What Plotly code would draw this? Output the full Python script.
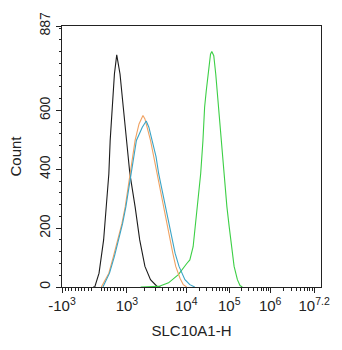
import math
import plotly.graph_objects as go

# Histogram data: x in display channel units (0..1000 across the axis), y = Count
black_x = [120, 126.5, 143, 151.8, 160.7, 170.8, 180.9, 186, 193.6, 202.4, 211.3, 224, 236.6, 250.5, 262, 282.2, 300, 320.2, 341.7, 367, 380]
black_y = [0, 0, 47, 104, 160, 273, 385, 498, 611, 724, 789, 724, 611, 498, 385, 273, 160, 70, 25, 2, 0]

orange_x = [151.8, 168.3, 180.9, 198.6, 215, 231.5, 244.2, 262, 282.2, 297.4, 312.6, 320.2, 329, 341.7, 354.4, 367, 379.7, 392.3, 405, 415.1, 427.8, 439.2, 455.6, 468.3, 481]
orange_y = [0, 25, 47, 104, 160, 216, 273, 385, 498, 554, 583, 571, 543, 498, 442, 385, 329, 273, 216, 160, 115, 70, 30, 8, 0]

blue_x = [158, 171, 183.4, 202.4, 218.9, 234, 246.7, 265.7, 287.3, 310, 325.2, 335.4, 348, 363.2, 373.3, 386, 398.7, 411.3, 424, 436.6, 451.8, 474.6, 493.6, 512.6]
blue_y = [0, 25, 47, 104, 160, 216, 273, 385, 498, 543, 564, 543, 498, 442, 385, 329, 273, 216, 160, 115, 70, 25, 8, 0]

green_x = [303.7, 373.3, 411.3, 449.3, 481, 493.6, 506.3, 515.1, 525.3, 535.4, 544.2, 550.6, 557, 565.8, 573.4, 578.4, 586, 593.6, 601.2, 608.8, 616.4, 626.5, 636.6, 645.5, 654.4, 664.5, 677.2, 687.3, 696.2]
green_y = [0, 2, 14, 42, 79, 92, 137, 216, 295, 385, 498, 611, 667, 746, 791, 800, 786, 724, 645, 554, 464, 363, 273, 205, 137, 70, 25, 5, 0]

# Axis ticks (channel positions of the biexponential scale)
x_label_vals = [0, 250.7, 479.7, 645.7, 803.7, 973.4]
x_label_text = ["-10<sup>3</sup>", "10<sup>3</sup>", "10<sup>4</sup>", "10<sup>5</sup>", "10<sup>6</sup>", "10<sup>7.2</sup>"]
x_zero_cluster = [120, 126.5, 134]
y_label_vals = [0, 200, 400, 600, 887]
y_label_text = ["0", "200", "400", "600", "887"]
y_extra_major = [800]

decades = [250.7, 479.7, 645.7, 803.7, 973.4]
x_minor = [k * 12.65 for k in range(1, 10)] + [126.5 + k * 12.42 for k in range(2, 10)]
for a, b in zip(decades[:-1], decades[1:]):
    for m in range(2, 10):
        x_minor.append(a + math.log10(m) * (b - a))

fig = go.Figure()
series = [
    (black_x, black_y, "#1c1c1c"),
    (green_x, green_y, "#3ccf45"),
    (orange_x, orange_y, "#f0a262"),
    (blue_x, blue_y, "#3aa4c6"),
]
for xs, ys, col in series:
    fig.add_trace(go.Scatter(x=xs, y=ys, mode="lines", line=dict(color=col, width=1.1), showlegend=False))

font = "Liberation Sans, Arial, sans-serif"
ink = "#222"
fig.update_layout(
    width=342, height=350,
    margin=dict(l=62, r=17, t=25, b=63),
    paper_bgcolor="white", plot_bgcolor="white",
    font=dict(family=font, color=ink, size=14),
    xaxis=dict(
        range=[0, 1000], showgrid=False, zeroline=False,
        showline=True, linecolor=ink, linewidth=1, mirror=True,
        ticks="outside", ticklen=5, tickcolor=ink,
        tickvals=x_label_vals, ticktext=x_label_text,
        tickfont=dict(size=15),
        minor=dict(tickvals=x_minor, ticks="outside", ticklen=2.5, tickcolor=ink),
        title=dict(text="SLC10A1-H", font=dict(size=15), standoff=12),
    ),
    xaxis2=dict(
        range=[0, 1000], overlaying="x", anchor="y", side="bottom",
        showgrid=False, zeroline=False, showline=False, showticklabels=False,
        ticks="outside", ticklen=5, tickcolor=ink, tickvals=x_zero_cluster,
    ),
    yaxis=dict(
        range=[0, 887], showgrid=False, zeroline=False,
        showline=True, linecolor=ink, linewidth=1, mirror=True,
        ticks="outside", ticklen=5, tickcolor=ink,
        tickvals=y_label_vals, ticktext=y_label_text, tickangle=-90,
        tickfont=dict(size=14),
        minor=dict(dtick=40, tick0=0, ticks="outside", ticklen=2.5, tickcolor=ink),
        title=dict(text="Count", font=dict(size=15), standoff=12),
    ),
    yaxis2=dict(
        range=[0, 887], overlaying="y", anchor="x", side="left",
        showgrid=False, zeroline=False, showline=False, showticklabels=False,
        ticks="outside", ticklen=5, tickcolor=ink, tickvals=y_extra_major,
    ),
)
fig.write_html("out.html")
